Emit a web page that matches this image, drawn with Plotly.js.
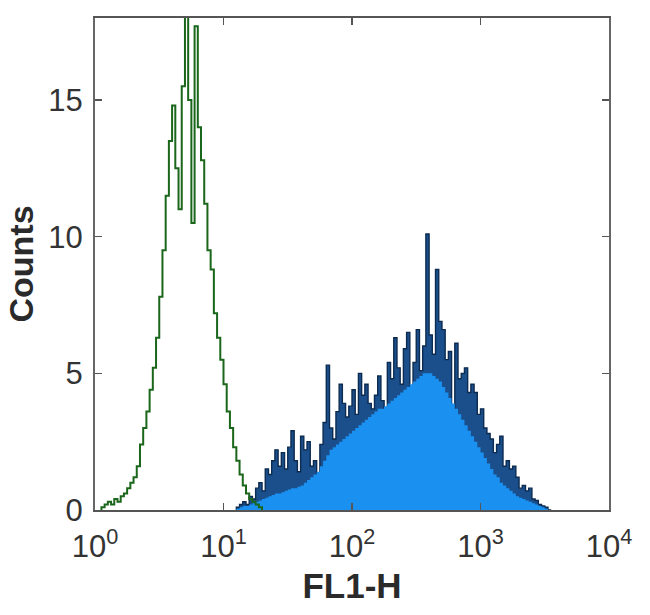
<!DOCTYPE html>
<html>
<head>
<meta charset="utf-8">
<script src="https://cdn.plot.ly/plotly-3.0.1.min.js"></script>
<style>
  html, body { margin: 0; padding: 0; background: #ffffff; }
  #chart { width: 650px; height: 615px; }
</style>
</head>
<body>
<div id="chart"></div>
<script>
// ---- data ----
// histogram bins are uniform in log10(FL1-H): width 0.025 decade
const binWidthLog = 0.025;

// isotype / unstained control (green outline)
const greenStartLog = 0.05;
const greenCounts = [0.1, 0.2, 0.3, 0.2, 0.4, 0.3, 0.5, 0.6, 0.8, 1.0,
                     1.2, 1.6, 2.4, 3.0, 3.6, 4.4, 5.2, 6.3, 7.8, 9.5,
                     11.5, 13.5, 14.8, 12.5, 11.0, 15.5, 18.5, 15.0, 10.5, 17.7,
                     14.0, 12.8, 11.2, 9.5, 8.8, 7.2, 6.3, 5.5, 4.6, 3.6,
                     3.0, 2.3, 1.8, 1.3, 0.9, 0.6, 0.4, 0.3, 0.2, 0.1];

// stained sample (navy spiky outline)
const blueStartLog = 1.10;
const blueCounts = [0.1, 0.2, 0.3, 0.2, 0.5, 0.4, 0.8, 1.0, 0.7, 1.5,
                    1.3, 1.8, 2.2, 1.6, 2.1, 1.5, 2.3, 2.9, 1.8, 1.4,
                    2.7, 2.2, 2.5, 1.6, 1.8, 1.2, 2.4, 3.2, 5.3, 3.0,
                    2.6, 3.6, 4.6, 3.9, 3.4, 3.8, 4.4, 3.5, 5.0, 4.2,
                    4.6, 3.9, 3.7, 4.2, 4.9, 4.0, 1.6, 5.4, 4.8, 6.3,
                    5.2, 4.6, 5.9, 6.5, 4.3, 5.4, 6.6, 5.1, 6.0, 10.1,
                    6.4, 5.7, 8.8, 6.9, 6.6, 5.5, 5.8, 3.3, 6.1, 4.8,
                    5.0, 5.2, 4.3, 4.6, 4.3, 3.5, 3.7, 3.0, 2.8, 2.6,
                    2.1, 2.4, 2.7, 1.6, 1.8, 1.5, 1.6, 1.2, 0.8, 0.9,
                    0.7, 0.8, 0.4, 0.35, 0.2, 0.15, 0.1, 0.0];

// stained sample, bright-blue filled body
const blueFillCounts = [0.05, 0.1, 0.15, 0.15, 0.2, 0.25, 0.3, 0.35, 0.4, 0.45,
                        0.5, 0.55, 0.6, 0.6, 0.65, 0.7, 0.75, 0.8, 0.8, 0.85,
                        0.9, 1.0, 1.1, 1.2, 1.3, 1.4, 1.6, 1.8, 2.0, 2.2,
                        2.3, 2.4, 2.5, 2.6, 2.7, 2.8, 2.9, 3.0, 3.1, 3.2,
                        3.3, 3.4, 3.5, 3.6, 3.7, 3.7, 3.8, 3.9, 4.0, 4.1,
                        4.2, 4.3, 4.4, 4.5, 4.6, 4.7, 4.8, 4.9, 5.0, 5.0,
                        5.0, 4.9, 4.8, 4.7, 4.5, 4.3, 4.1, 3.9, 3.7, 3.5,
                        3.3, 3.1, 2.9, 2.7, 2.5, 2.3, 2.1, 1.9, 1.7, 1.5,
                        1.3, 1.2, 1.0, 0.9, 0.8, 0.7, 0.6, 0.5, 0.45, 0.4,
                        0.35, 0.3, 0.25, 0.2, 0.15, 0.1, 0.05, 0.0];

const xTickVals = [1, 10, 100, 1000, 10000];
const xTickText = ['10<sup>0</sup>', '10<sup>1</sup>', '10<sup>2</sup>', '10<sup>3</sup>', '10<sup>4</sup>'];
const yTickVals = [0, 5, 10, 15];

// ---- build step outlines from bins ----
function stepXY(startLog, counts) {
  const xs = [], ys = [];
  xs.push(Math.pow(10, startLog)); ys.push(0);
  for (let i = 0; i < counts.length; i++) {
    xs.push(Math.pow(10, startLog + i * binWidthLog));
    ys.push(counts[i]);
  }
  const endEdge = Math.pow(10, startLog + counts.length * binWidthLog);
  xs.push(endEdge); ys.push(counts[counts.length - 1]);
  xs.push(endEdge); ys.push(0);
  return {x: xs, y: ys};
}

const g = stepXY(greenStartLog, greenCounts);
const b = stepXY(blueStartLog, blueCounts);
const bf = stepXY(blueStartLog, blueFillCounts);

const traces = [
  {x: b.x, y: b.y, type: 'scatter', mode: 'lines', line: {shape: 'hv', color: '#0c2b50', width: 1.4},
   fill: 'tozeroy', fillcolor: '#1b4f8c', hoverinfo: 'skip'},
  {x: bf.x, y: bf.y, type: 'scatter', mode: 'lines', line: {shape: 'hv', color: 'rgba(0,0,0,0)', width: 0},
   fill: 'tozeroy', fillcolor: '#1a90f0', hoverinfo: 'skip'},
  {x: g.x, y: g.y, type: 'scatter', mode: 'lines', line: {shape: 'hv', color: '#1a661a', width: 2},
   hoverinfo: 'skip'}
];

const layout = {
  width: 650, height: 615,
  margin: {l: 95, r: 41, t: 18, b: 105},
  paper_bgcolor: '#ffffff', plot_bgcolor: '#ffffff',
  showlegend: false,
  font: {family: 'Liberation Sans, Arial, sans-serif', color: '#333333'},
  xaxis: {
    type: 'log', range: [0, 4],
    tickvals: xTickVals, ticktext: xTickText,
    ticks: 'inside', ticklen: 7, tickwidth: 1.5, tickcolor: '#555555',
    showline: true, linecolor: '#555555', linewidth: 2, mirror: 'ticks',
    showgrid: false, zeroline: false,
    tickfont: {size: 31, color: '#333333'},
    ticklabelstandoff: 8,
    title: {text: '<b>FL1-H</b>', font: {size: 35, color: '#2a2a2a'}, standoff: 10}
  },
  yaxis: {
    range: [0, 18],
    tickvals: yTickVals,
    ticks: 'inside', ticklen: 7, tickwidth: 1.5, tickcolor: '#555555',
    showline: true, linecolor: '#666666', linewidth: 2, mirror: 'ticks',
    showgrid: false, zeroline: false,
    tickfont: {size: 31, color: '#333333'},
    ticklabelstandoff: 4,
    title: {text: '<b>Counts</b>', font: {size: 34, color: '#2a2a2a'}, standoff: 4}
  }
};

Plotly.newPlot('chart', traces, layout, {displayModeBar: false, staticPlot: true});
</script>
</body>
</html>
